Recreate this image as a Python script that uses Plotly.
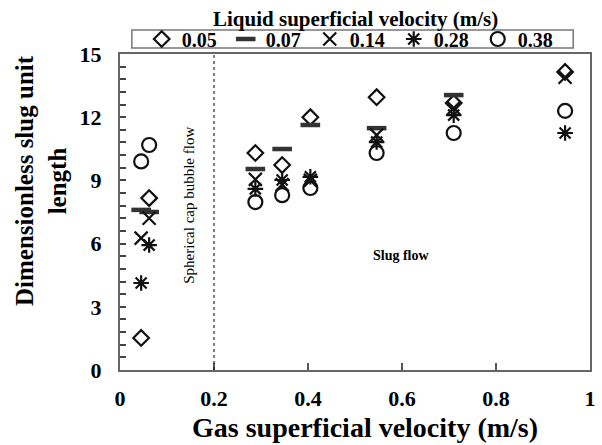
import plotly.graph_objects as go

# Liquid superficial velocity series (m/s)
series_names = ["0.05", "0.07", "0.14", "0.28", "0.38"]

x_005 = [0.045, 0.062, 0.288, 0.345, 0.405, 0.546, 0.71, 0.947]
y_005 = [1.52, 8.16, 10.3, 9.73, 12.0, 12.95, 12.67, 14.15]

x_007 = [0.045, 0.062, 0.288, 0.345, 0.405, 0.546, 0.71]
y_007 = [7.6, 7.5, 9.54, 10.49, 11.63, 11.48, 13.05]

x_014 = [0.045, 0.062, 0.288, 0.345, 0.405, 0.546, 0.71, 0.947]
y_014 = [6.26, 7.2, 9.05, 8.8, 9.0, 11.15, 12.43, 13.9]

x_028 = [0.045, 0.062, 0.288, 0.345, 0.405, 0.546, 0.71, 0.947]
y_028 = [4.13, 5.93, 8.6, 9.02, 9.17, 10.82, 12.1, 11.25]

x_038 = [0.045, 0.062, 0.288, 0.345, 0.405, 0.546, 0.71, 0.947]
y_038 = [9.9, 10.68, 7.97, 8.3, 8.64, 10.3, 11.25, 12.3]

x_ticks = [0, 0.2, 0.4, 0.6, 0.8, 1]
x_tick_labels = ["0", "0.2", "0.4", "0.6", "0.8", "1"]
y_ticks = [0, 3, 6, 9, 12, 15]

FONT = "Liberation Serif"
INK = "#111111"

# plot area in pixels (for paper-coordinate helpers)
L, R, T, B = 120, 596, 54, 370
W, H = R - L, B - T


def px(xp):
    return (xp - L) / W


def py(yp):
    return (B - yp) / H


fig = go.Figure()

styles = [
    dict(symbol="diamond-open", size=12, line=dict(width=2.2, color=INK), color=INK),
    dict(symbol="line-ew-open", size=14, line=dict(width=4.5, color="#333333"), color="#333333"),
    dict(symbol="x-thin-open", size=13, line=dict(width=2.2, color=INK), color=INK),
    dict(symbol="asterisk-open", size=13, line=dict(width=2.2, color=INK), color=INK),
    dict(symbol="circle-open", size=14, line=dict(width=2.2, color=INK), color=INK),
]
data = [(x_005, y_005), (x_007, y_007), (x_014, y_014), (x_028, y_028), (x_038, y_038)]

for name, (xs, ys), st in zip(series_names, data, styles):
    fig.add_trace(go.Scatter(x=xs, y=ys, mode="markers", name="<b>%s</b>" % name, marker=st))

# dotted boundary line at Ug = 0.2
fig.add_shape(type="line", x0=0.2, x1=0.2, y0=0, y1=15, xref="x", yref="y",
              line=dict(color="black", width=1, dash="dot"))

# legend frame
fig.add_shape(type="rect", xref="paper", yref="paper",
              x0=px(132), x1=px(579), y0=py(48), y1=py(30),
              line=dict(color="#777777", width=1.5), fillcolor="rgba(0,0,0,0)")

fig.add_annotation(x=0.147, y=7.8, xref="x", yref="y", text="Spherical cap bubble flow",
                   textangle=-90, showarrow=False,
                   font=dict(family=FONT, size=15, color="black"))
fig.add_annotation(x=px(405), y=py(265), xref="paper", yref="paper", text="<b>Slug flow</b>",
                   showarrow=False, font=dict(family=FONT, size=14, color="black"))

# legend title (outside the legend box)
fig.add_annotation(xref="paper", yref="paper", x=px(358), y=py(19),
                   text="<b>Liquid superficial velocity (m/s)</b>", showarrow=False,
                   xanchor="center", yanchor="middle",
                   font=dict(family=FONT, size=21, color="black"))

# axis titles
fig.add_annotation(xref="paper", yref="paper", x=px(368), y=py(427),
                   text="<b>Gas superficial velocity (m/s)</b>", showarrow=False,
                   xanchor="center", yanchor="middle",
                   font=dict(family=FONT, size=28, color="black"))
fig.add_annotation(xref="paper", yref="paper", x=px(40), y=py(181),
                   text="<b>Dimensionless slug unit<br>length</b>", showarrow=False,
                   textangle=-90, xanchor="center", yanchor="middle",
                   font=dict(family=FONT, size=25, color="black"))

fig.update_layout(
    width=602, height=445,
    margin=dict(l=L, r=602 - R, t=T, b=445 - B),
    paper_bgcolor="white", plot_bgcolor="white",
    font=dict(family=FONT, color="black"),
    showlegend=True,
    legend=dict(
        orientation="h", x=px(142), y=py(39),
        xanchor="left", yanchor="middle",
        borderwidth=0, bgcolor="rgba(0,0,0,0)",
        font=dict(family=FONT, size=20, color="black"),
        entrywidth=39, itemwidth=30, tracegroupgap=0,
    ),
    xaxis=dict(
        range=[0, 1], tickmode="array", tickvals=x_ticks,
        ticktext=["<b>%s</b>" % t for t in x_tick_labels],
        ticks="inside", ticklen=7, tickwidth=1.5, tickcolor="#555555", ticklabelstandoff=8,
        showline=True, linecolor="#666666", linewidth=2, mirror=True,
        showgrid=False, zeroline=False, layer="above traces",
        tickfont=dict(family=FONT, size=22, color="black"),
    ),
    yaxis=dict(
        range=[y_ticks[0], y_ticks[-1]], tickmode="linear", tick0=y_ticks[0],
        dtick=y_ticks[1] - y_ticks[0],
        ticks="inside", ticklen=6, tickwidth=1.5, tickcolor="#444444", ticklabelstandoff=12,
        showline=True, linecolor="#666666", linewidth=2, mirror=True,
        showgrid=False, zeroline=False, layer="above traces",
        minor=dict(dtick=0.6, ticks="inside", ticklen=6, tickcolor="#444444", tickwidth=1.5,
                   showgrid=False),
        tickfont=dict(family=FONT, size=22, color="black", weight="bold"),
    ),
)

fig.write_html("out.html")
